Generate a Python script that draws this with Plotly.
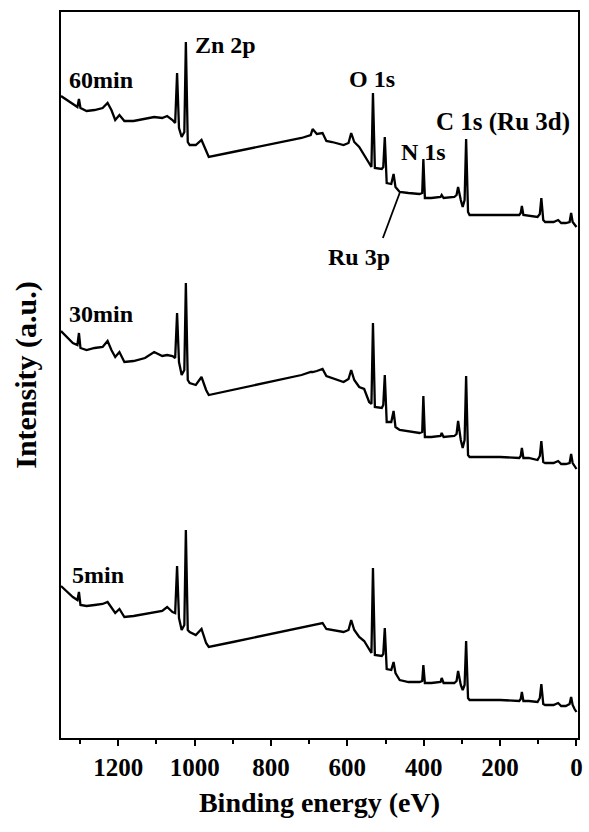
import plotly.graph_objects as go

# Binding energy grid (eV), shared by the three spectra
energy = [1350, 1319, 1307, 1303, 1299, 1283, 1262, 1241, 1228, 1218, 1208, 1197, 1184, 1160,
          1130, 1106, 1085, 1072, 1058, 1051, 1046, 1041, 1034, 1027, 1023, 1018, 1013, 997,
          982, 970, 963, 900, 800, 720, 696, 691, 680, 665, 655, 640, 610, 597, 590, 582,
          569, 556, 543, 537, 533, 528, 510, 506, 502, 497, 485, 479, 474, 463, 440, 411,
          404, 401, 397, 380, 356, 353, 348, 320, 314, 310, 303, 298, 293, 289, 284, 280,
          200, 150, 146, 143, 139, 125, 102, 96, 92, 87, 82, 60, 48, 40, 28, 18, 14, 10, 5, 0]

# Intensities (a.u.), already vertically offset as plotted
i_60min = [642, 634, 631, 639, 630, 627, 628, 630, 635, 628, 618, 623, 617, 617,
           619, 621, 620, 622, 618, 615, 665, 610, 601, 606, 696, 596, 593, 593,
           598, 586, 581, 586, 594, 600, 603, 609, 604, 605, 597, 596, 593, 595, 605, 596,
           591, 583, 575, 571, 645, 570, 569, 571, 601, 555, 554, 564, 551, 546, 545, 544,
           545, 579, 540, 540, 541, 543, 540, 541, 543, 551, 538, 531, 538, 599, 526, 523,
           523, 523, 525, 532, 523, 522, 521, 524, 540, 518, 516, 516, 518, 515, 515, 516, 525, 516, 513, 511]

i_30min = [407, 395, 393, 405, 390, 388, 390, 391, 397, 388, 381, 386, 376, 377,
           380, 386, 382, 383, 382, 380, 425, 376, 363, 368, 455, 358, 355, 353,
           361, 348, 343, 348, 356, 363, 366, 366, 367, 369, 362, 360, 356, 359, 368, 358,
           351, 349, 336, 334, 415, 331, 330, 333, 363, 316, 316, 327, 311, 308, 307, 305,
           306, 342, 301, 301, 302, 305, 301, 302, 304, 317, 298, 290, 298, 362, 283, 281,
           281, 280, 282, 290, 280, 280, 278, 282, 297, 276, 275, 275, 277, 274, 274, 275, 284, 275, 272, 269]

i_5min = [152, 141, 138, 146, 133, 132, 133, 134, 136, 130, 125, 129, 121, 122,
          124, 126, 127, 131, 126, 125, 172, 120, 108, 113, 208, 108, 106, 103,
          109, 95, 91, 96, 104, 111, 113, 113, 114, 115, 109, 108, 106, 108, 118, 108,
          101, 97, 88, 85, 170, 83, 82, 84, 110, 69, 68, 76, 65, 58, 56, 56,
          57, 73, 55, 55, 56, 60, 55, 55, 57, 67, 53, 48, 53, 97, 40, 38,
          38, 37, 39, 46, 37, 37, 36, 40, 54, 34, 33, 33, 35, 32, 32, 34, 41, 33, 29, 26]

series = [("60min", i_60min), ("30min", i_30min), ("5min", i_5min)]

# Labels: (text, energy, intensity, xanchor)
sample_labels = [("60min", 1334, 658, "left"), ("30min", 1334, 424, "left"), ("5min", 1327, 163, "left")]
peak_labels = [("Zn 2p", 1005, 693, "left"), ("O 1s", 535, 659, "center"),
               ("N 1s", 401, 586, "center"), ("C 1s (Ru 3d)", 193, 616, "center"),
               ("Ru 3p", 569, 481, "center")]
ru3p_pointer = ([507, 463], [500, 545])

FONT = "Liberation Serif, Times New Roman, serif"

fig = go.Figure()
for name, vals in series:
    fig.add_trace(go.Scatter(x=energy, y=vals, mode="lines", name=name,
                             line=dict(color="black", width=2.3), showlegend=False))

fig.add_trace(go.Scatter(x=ru3p_pointer[0], y=ru3p_pointer[1], mode="lines",
                         line=dict(color="black", width=1.8), showlegend=False))

for text, x, y, xa in sample_labels + peak_labels:
    size = 25 if text == "C 1s (Ru 3d)" else 24
    fig.add_annotation(x=x, y=y, text=f"<b>{text}</b>", showarrow=False, xanchor=xa,
                       yanchor="middle", font=dict(family=FONT, size=size, color="black"))

fig.update_layout(
    width=589, height=832,
    margin=dict(l=61, r=6, t=12, b=94),
    paper_bgcolor="white", plot_bgcolor="white",
    font=dict(family=FONT, color="black"),
)
fig.update_xaxes(
    range=[1350, -4], showline=True, mirror=True, linecolor="black", linewidth=2,
    showgrid=False, zeroline=False,
    ticks="outside", ticklen=6, tickwidth=2, tickcolor="black", dtick=200, tick0=0,
    minor=dict(ticks="outside", ticklen=4, tickwidth=2, tickcolor="black", dtick=100, tick0=0),
    tickfont=dict(family=FONT, size=25, color="black", weight="bold"),
    title=dict(text="<b>Binding energy (eV)</b>", font=dict(family=FONT, size=28, color="black"),
               standoff=12),
)
fig.update_yaxes(
    range=[0, 726], showline=True, mirror=True, linecolor="black", linewidth=2,
    showgrid=False, zeroline=False, showticklabels=False, ticks="",
    title=dict(text="<b>Intensity (a.u.)</b>", font=dict(family=FONT, size=30, color="black"),
               standoff=14),
)

fig.write_html("out.html")
